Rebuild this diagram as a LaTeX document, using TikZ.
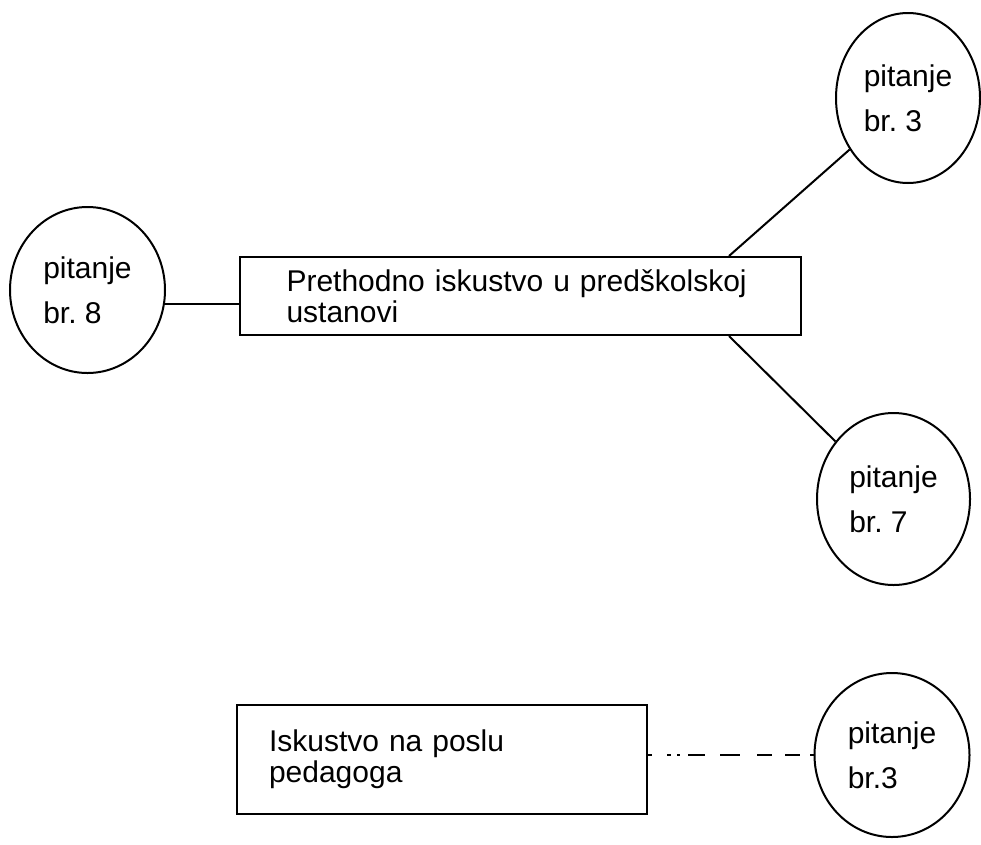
\documentclass[tikz,border=0pt]{standalone}
\usepackage{fontspec}
\setmainfont{Liberation Sans}
\usetikzlibrary{shapes.geometric}
\frenchspacing
\begin{document}
\begin{tikzpicture}[x=1pt,y=-1pt,line width=2pt,
    pit/.style={draw,ellipse,inner sep=0pt,align=left,font=\fontsize{30}{45}\selectfont},
    okvir/.style={draw,rectangle,inner sep=0pt,align=left,font=\fontsize{30}{31}\selectfont},
    crtica/.style={line width=1.8pt,dash pattern=on 4pt off 15pt on 4pt off 6pt on 3pt off 8pt on 17pt off 15pt on 20pt off 17pt on 15pt off 13pt on 15pt off 10pt on 5pt off 1pt}]
    \useasboundingbox (0,0) rectangle (981,844);

    \node [pit,minimum width=155pt,minimum height=166pt](p8)at(87.5,290){pitanje\\br. 8};
    \node [pit,minimum width=144pt,minimum height=170pt](p3)at(908,98){pitanje\\br. 3};
    \node [pit,minimum width=153pt,minimum height=172pt](p7)at(893.5,499){pitanje\\br. 7};
    \node [pit,minimum width=155pt,minimum height=164pt](q3)at(892,755){pitanje\\br.3};
    \node [okvir,minimum width=561pt,minimum height=78pt,text width=468pt](b1)at(520.5,296){Prethodno iskustvo u predškolskoj\\ustanovi};
    \node [okvir,minimum width=410pt,minimum height=109pt,text width=346pt](b2)at(442,759.5){Iskustvo na poslu\\pedagoga};

    \draw (p8.-10) -- (p8.-10 -| b1.west);
    \draw ([xshift=-73pt]b1.north east) -- (p3);
    \draw ([xshift=-73pt]b1.south east) -- (p7);
    \draw [crtica] (q3.west -| b2.east) -- (q3.west);
\end{tikzpicture}
\end{document}
